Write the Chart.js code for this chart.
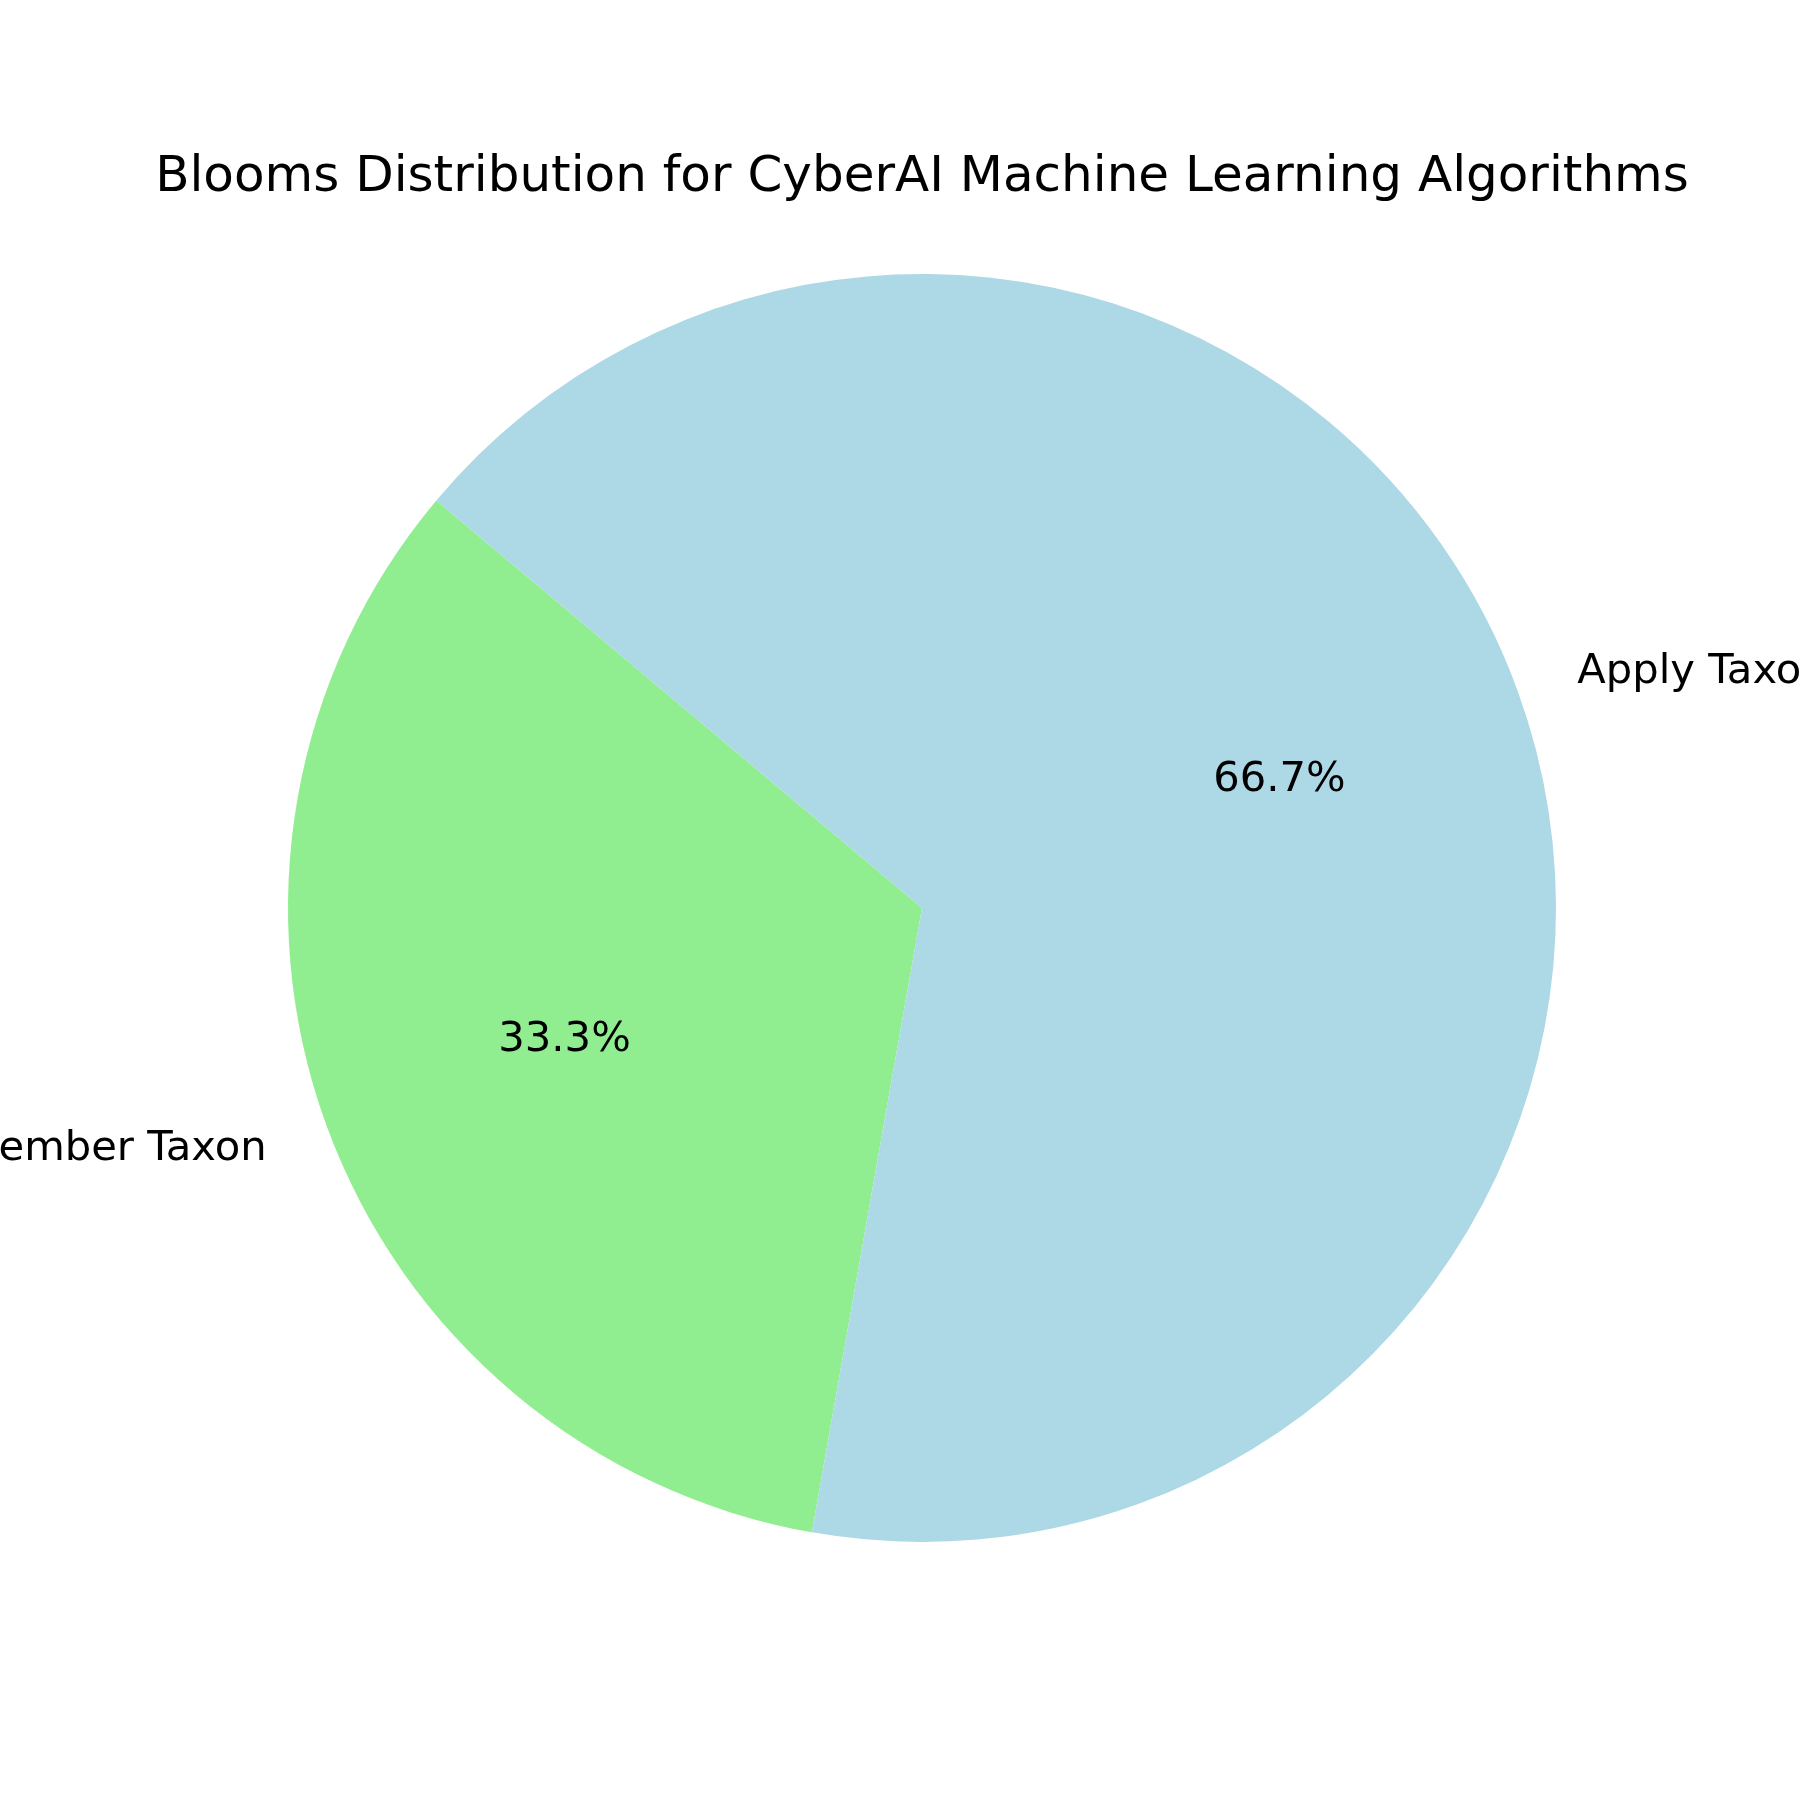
<!DOCTYPE html>
<html>
<head>
<meta charset="utf-8">
<script src="https://cdn.jsdelivr.net/npm/chart.js@4/dist/chart.umd.min.js"></script>
<style>
  html, body { margin: 0; padding: 0; background: #fff; }
  canvas { display: block; }
</style>
</head>
<body>
<canvas id="pieChart" width="1800" height="1800"></canvas>
<script>
const chartTitle = "Blooms Distribution for CyberAI Machine Learning Algorithms";

// data
const arr_labels = ["Remember Taxon", "Apply Taxon"];
const arr_values = [1, 2];
const arr_colors = ["#90EE90", "#ADD8E6"];

const FONT = "'DejaVu Sans', sans-serif";

//draw title, outside labels and percentages
const pieTextPlugin = {
	id: 'pieText',
	afterDatasetsDraw(chart) {
		var ctx = chart.ctx;
		var meta = chart.getDatasetMeta(0);
		var total = arr_values.reduce((a, b) => a + b, 0);

		ctx.save();
		ctx.fillStyle = '#000';

		//title
		ctx.font = '50px ' + FONT;
		ctx.textAlign = 'center';
		ctx.textBaseline = 'alphabetic';
		ctx.fillText(chartTitle, 922, 191);

		ctx.font = '41.7px ' + FONT;
		for (var i = 0; i < meta.data.length; i++) {
			var arc = meta.data[i];
			var mid = (arc.startAngle + arc.endAngle) / 2;
			var r = arc.outerRadius;
			var cx = Math.cos(mid), cy = Math.sin(mid);

			//category label at 1.1 r
			var lx = arc.x + cx * r * 1.1;
			var ly = arc.y + cy * r * 1.1 + 3;
			ctx.textAlign = cx >= 0 ? 'left' : 'right';
			ctx.textBaseline = 'middle';
			ctx.fillText(arr_labels[i], lx, ly);

			//percentage at 0.6 r
			var px = arc.x + cx * r * 0.6;
			var py = arc.y + cy * r * 0.6 + 2;
			ctx.textAlign = 'center';
			ctx.fillText((arr_values[i] / total * 100).toFixed(1) + '%', px, py);
		}
		ctx.restore();
	}
};

new Chart(document.getElementById('pieChart'), {
	type: 'pie',
	data: {
		labels: arr_labels,
		datasets: [{
			data: arr_values,
			backgroundColor: arr_colors,
			borderWidth: 0,
			hoverOffset: 0
		}]
	},
	options: {
		responsive: false,
		animation: false,
		rotation: 190,
		layout: {
			padding: { left: 288, right: 244, top: 274, bottom: 258 }
		},
		plugins: {
			legend: { display: false },
			title: { display: false },
			tooltip: { enabled: false }
		}
	},
	plugins: [pieTextPlugin]
});
</script>
</body>
</html>
